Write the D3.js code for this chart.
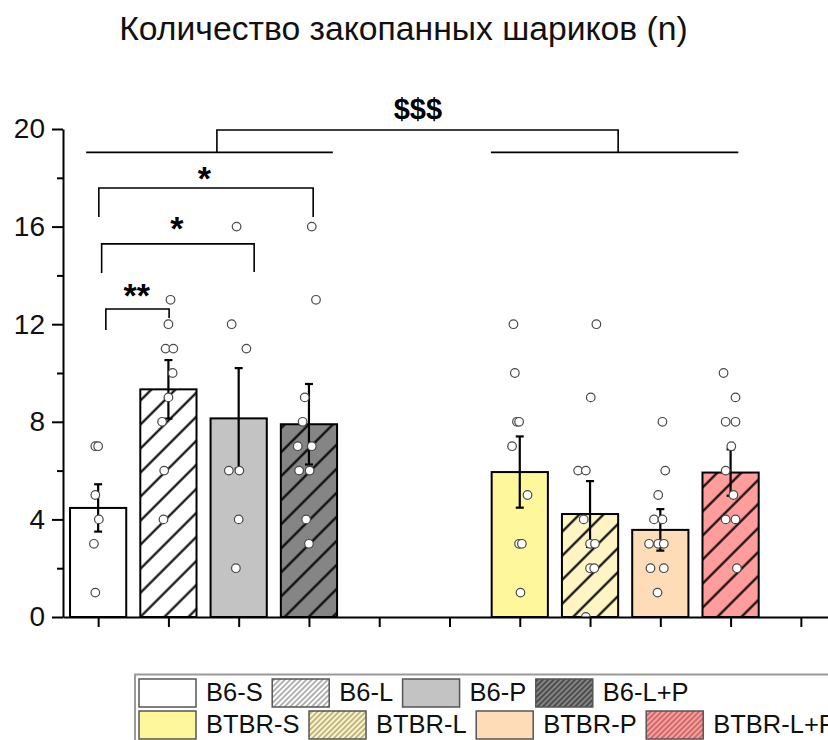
<!DOCTYPE html>
<html>
<head>
<meta charset="utf-8">
<script src="https://cdn.jsdelivr.net/npm/d3@7"></script>
<style>
  html, body { margin: 0; padding: 0; background: #fff; }
  svg { display: block; font-family: "Liberation Sans", Arial, sans-serif; }
</style>
</head>
<body>
<svg id="chart" width="828" height="740"></svg>
<script>
// ---- data ----------------------------------------------------------------
const title = "Количество закопанных шариков (n)";
const groups = ["B6-S", "B6-L", "B6-P", "B6-L+P", "BTBR-S", "BTBR-L", "BTBR-P", "BTBR-L+P"];
// slot of each group on the category axis (5, 6 and 11 stay empty)
const slots = [1, 2, 3, 4, 7, 8, 9, 10];
const means = [4.47, 9.33, 8.14, 7.9, 5.94, 4.22, 3.57, 5.92];
const sems  = [0.97, 1.2, 2.06, 1.65, 1.46, 1.35, 0.85, 0.95];
// individual animals
const points = [
  [7, 7, 5, 4, 3, 1],
  [13, 12, 11, 11, 10, 9, 8, 6, 4],
  [16, 12, 11, 6, 6, 4, 2],
  [16, 13, 9, 8, 7, 7, 6, 6, 4, 3],
  [12, 10, 8, 8, 7, 5, 3, 3, 1],
  [12, 9, 6, 6, 4, 3, 3, 2, 2, 0],
  [8, 6, 5, 4, 4, 3, 3, 3, 2, 2, 1],
  [10, 9, 8, 8, 7, 6, 5, 4, 4, 2]
];
// horizontal scatter of each animal, in slot units
const jitter = [
  [-0.04, 0, -0.04, 0.01, -0.06, -0.04],
  [0.03, 0, -0.04, 0.07, 0.06, 0, -0.09, -0.06, -0.07],
  [-0.03, -0.1, 0.11, -0.14, 0.01, 0, -0.04],
  [0.04, 0.1, -0.06, -0.09, -0.16, 0.04, -0.14, 0.01, -0.04, 0],
  [-0.09, -0.07, -0.04, -0.01, -0.11, 0.11, -0.01, 0.03, 0.01],
  [0.09, 0.01, -0.17, -0.06, -0.09, 0, 0.07, 0, 0.06, -0.06],
  [0.03, 0.07, -0.03, -0.09, 0.03, -0.16, -0.03, 0.05, -0.14, 0.05, -0.04],
  [-0.1, 0.07, -0.07, 0.07, 0.01, -0.07, 0.04, -0.07, 0.07, 0.09]
];
const fills   = ["#ffffff", "#ffffff", "#c3c3c3", "#858585", "#fff79c", "#fff5c4", "#fedcb8", "#ff9c9c"];
const hatched = [false, true, false, true, false, true, false, true];
const legendHatch = ["#888", "#777", "#888", "#222", "#999", "#8a8660", "#999", "#a04848"];

const yTicks = [0, 4, 8, 12, 16, 20];
const yMinor = [2, 6, 10, 14, 18];
const xTicks = d3.range(1, 12);

// significance annotations (slot units / count units)
const groupLines = [
  { x1: 0.83, x2: 4.34, y: 19.04 },
  { x1: 6.59, x2: 10.11, y: 19.04 }
];
const strainBracket = { x1: 2.69, x2: 8.4, y: 19.96, yEnd: 19.04, label: "$$$", lx: 5.55, ly: 20.4 };
const pairBrackets = [
  { x1: 1.01, x2: 4.06, y: 17.58, y1: 16.39, y2: 16.39, label: "*",  lx: 2.51, ly: 17.5 },
  { x1: 1.05, x2: 3.22, y: 15.29, y1: 14.1,  y2: 14.14, label: "*",  lx: 2.12, ly: 15.45 },
  { x1: 1.11, x2: 2.01, y: 12.62, y1: 11.76, y2: 12.25, label: "**", lx: 1.55, ly: 12.7 }
];

// ---- layout ----------------------------------------------------------------
const svg = d3.select("#chart");
const W = 828;
const x = d3.scaleLinear().domain([0.5, 11.5]).range([63, 836]);
const y = d3.scaleLinear().domain([0, 20]).range([617, 129]);
const slotW = x(2) - x(1);
const barW = slotW * 0.8;

const defs = svg.append("defs");
function hatchPattern(id, bg, lineColor, spacing, width) {
  const p = defs.append("pattern")
    .attr("id", id)
    .attr("patternUnits", "userSpaceOnUse")
    .attr("width", spacing).attr("height", spacing)
    .attr("patternTransform", "rotate(45)");
  p.append("rect").attr("width", spacing).attr("height", spacing).attr("fill", bg);
  p.append("line")
    .attr("x1", spacing / 2).attr("x2", spacing / 2)
    .attr("y1", 0).attr("y2", spacing)
    .attr("stroke", lineColor).attr("stroke-width", width);
}
groups.forEach((g, i) => {
  if (hatched[i]) {
    hatchPattern("bar-hatch-" + i, fills[i], "#000", 17, 2.1);
    hatchPattern("leg-hatch-" + i, fills[i], legendHatch[i], 3.8, 1.1);
  }
});
defs.append("clipPath").attr("id", "plot-clip")
  .append("rect").attr("x", 0).attr("y", 0).attr("width", W).attr("height", y(0));

// title
svg.append("text")
  .attr("x", 403.5).attr("y", 40)
  .attr("text-anchor", "middle")
  .attr("font-size", 33.7)
  .attr("fill", "#111")
  .text(title);

// bars
const barData = groups.map((g, i) => ({ g, i, slot: slots[i], mean: means[i], sem: sems[i] }));
svg.append("g").selectAll("rect").data(barData).join("rect")
  .attr("x", d => x(d.slot) - barW / 2)
  .attr("y", d => y(d.mean))
  .attr("width", barW)
  .attr("height", d => y(0) - y(d.mean))
  .attr("fill", d => hatched[d.i] ? `url(#bar-hatch-${d.i})` : fills[d.i])
  .attr("stroke", "#000")
  .attr("stroke-width", 2);

// error bars (± SEM)
const eb = svg.append("g").attr("stroke", "#000").attr("stroke-width", 2.2);
barData.forEach(d => {
  const cx = x(d.slot), top = y(d.mean + d.sem), bot = y(d.mean - d.sem);
  eb.append("line").attr("x1", cx).attr("x2", cx).attr("y1", top).attr("y2", bot);
  eb.append("line").attr("x1", cx - 4).attr("x2", cx + 4).attr("y1", top).attr("y2", top);
  eb.append("line").attr("x1", cx - 4).attr("x2", cx + 4).attr("y1", bot).attr("y2", bot);
});

// individual points
const pts = [];
points.forEach((arr, i) => arr.forEach((v, j) => pts.push({ v, s: slots[i] + jitter[i][j] })));
svg.append("g").attr("clip-path", "url(#plot-clip)")
  .selectAll("circle").data(pts).join("circle")
  .attr("cx", d => x(d.s))
  .attr("cy", d => y(d.v))
  .attr("r", 4.3)
  .attr("fill", "#fff")
  .attr("stroke", "#4a4a4a")
  .attr("stroke-width", 1.2);

// axes
const yAxis = svg.append("g")
  .attr("transform", `translate(${x.range()[0]},0)`)
  .call(d3.axisLeft(y).tickValues(yTicks).tickSize(11).tickPadding(7).tickSizeOuter(0));
svg.append("g")
  .attr("transform", `translate(${x.range()[0]},0)`)
  .call(d3.axisLeft(y).tickValues(yMinor).tickSize(6).tickFormat("").tickSizeOuter(0))
  .call(g => g.select(".domain").remove());
const xAxis = svg.append("g")
  .attr("transform", `translate(0,${y(0)})`)
  .call(d3.axisBottom(x).tickValues(xTicks).tickSize(10).tickFormat("").tickSizeOuter(0));
svg.selectAll(".domain, .tick line").attr("stroke", "#000").attr("stroke-width", 2);
yAxis.selectAll(".tick text")
  .attr("font-size", 28)
  .attr("font-family", "'Liberation Sans', Arial, sans-serif")
  .attr("fill", "#111");

// significance brackets
const ann = svg.append("g").attr("stroke", "#000").attr("stroke-width", 1.6).attr("fill", "none");
groupLines.forEach(l => {
  ann.append("line").attr("x1", x(l.x1)).attr("x2", x(l.x2)).attr("y1", y(l.y)).attr("y2", y(l.y));
});
{
  const b = strainBracket;
  ann.append("path").attr("d",
    `M${x(b.x1)},${y(b.yEnd)}V${y(b.y)}H${x(b.x2)}V${y(b.yEnd)}`);
}
pairBrackets.forEach(b => {
  ann.append("path").attr("d",
    `M${x(b.x1)},${y(b.y1)}V${y(b.y)}H${x(b.x2)}V${y(b.y2)}`);
});
const labels = [strainBracket, ...pairBrackets];
svg.append("g").selectAll("text").data(labels).join("text")
  .attr("x", d => x(d.lx))
  .attr("y", d => y(d.ly))
  .attr("text-anchor", "middle")
  .attr("font-weight", "bold")
  .attr("font-size", d => d.label === "$$$" ? 29 : 34)
  .attr("fill", "#000")
  .text(d => d.label);

// legend (two rows, running past the right page edge)
const leg = svg.append("g");
leg.append("rect")
  .attr("x", 135).attr("y", 674.5)
  .attr("width", 800).attr("height", 120)
  .attr("fill", "#fff").attr("stroke", "#9a9a9a").attr("stroke-width", 2);
const rows = [groups.slice(0, 4), groups.slice(4)];
rows.forEach((row, r) => {
  let cx = 139;
  const top = 679 + r * 32;
  row.forEach((g, k) => {
    const i = r * 4 + k;
    leg.append("rect")
      .attr("x", cx).attr("y", top).attr("width", 57).attr("height", 28)
      .attr("fill", hatched[i] ? `url(#leg-hatch-${i})` : fills[i])
      .attr("stroke", "#555").attr("stroke-width", 1.5);
    const t = leg.append("text")
      .attr("x", cx + 67).attr("y", top + 22)
      .attr("font-size", 25.5).attr("fill", "#111")
      .text(g);
    cx += 67 + t.node().getComputedTextLength() + 9.5;
  });
});
</script>
</body>
</html>
